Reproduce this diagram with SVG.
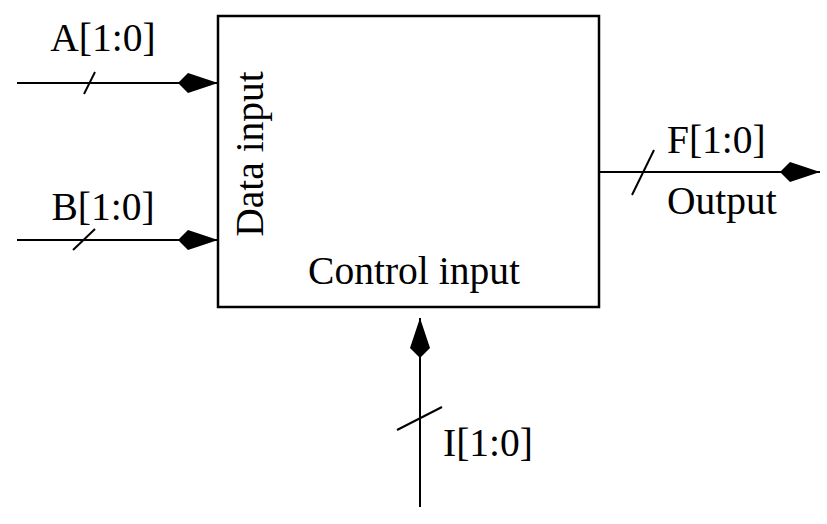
<svg xmlns="http://www.w3.org/2000/svg" width="827" height="524" viewBox="0 0 827 524">
<style>
text{font-family:"Liberation Serif","Times New Roman",serif;font-size:39.5px;fill:#000}
.w{stroke:#000;stroke-width:2;fill:none}
.s{stroke:#000;stroke-width:2}
</style>
<defs>
<marker id="dia" markerUnits="userSpaceOnUse" viewBox="-41 -11 42 22" refX="0" refY="0" markerWidth="42" markerHeight="22" orient="auto">
<path d="M0,0 L-30,-10 L-40,0 L-30,10 Z" fill="#000"/>
</marker>
</defs>
<g id="block">
<rect x="218" y="16" width="381" height="291" fill="#fff" stroke="#000" stroke-width="2.5"/>
<text transform="translate(263,154) rotate(-90)" text-anchor="middle">Data input</text>
<text x="414" y="284" text-anchor="middle">Control input</text>
</g>
<g id="connectors">
<line class="w" x1="17" y1="83" x2="218" y2="83" marker-end="url(#dia)"/>
<line class="s" x1="84" y1="94" x2="95" y2="72"/>
<line class="w" x1="17" y1="240" x2="218" y2="240" marker-end="url(#dia)"/>
<line class="s" x1="73" y1="250" x2="95" y2="229"/>
<line class="w" x1="599" y1="172" x2="820" y2="172" marker-end="url(#dia)"/>
<line class="s" x1="632" y1="195" x2="654" y2="150"/>
<line class="w" x1="420" y1="507" x2="420" y2="318" marker-end="url(#dia)"/>
<line class="s" x1="397" y1="430" x2="442" y2="407"/>
</g>
<g id="labels">
<text x="103" y="51" text-anchor="middle">A[1:0]</text>
<text x="103" y="220" text-anchor="middle">B[1:0]</text>
<text x="667" y="153">F[1:0]</text>
<text x="667" y="214">Output</text>
<text x="443" y="456">I[1:0]</text>
</g>
</svg>
